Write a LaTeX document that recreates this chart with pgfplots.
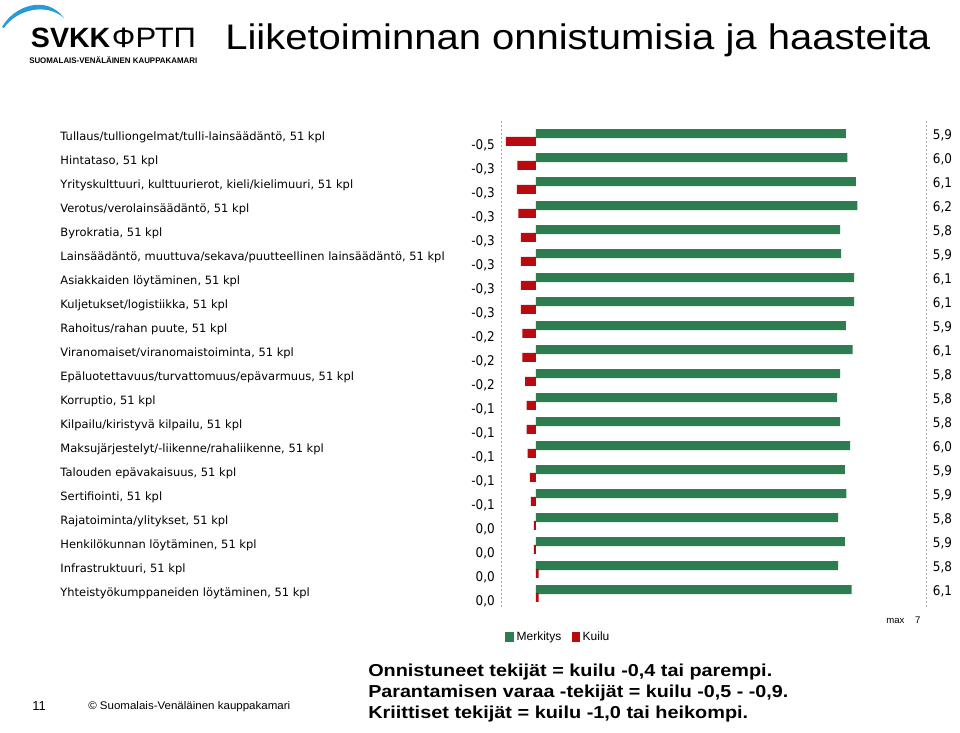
\documentclass[border=0pt]{standalone}
\usepackage{pgfplots}
\pgfplotsset{compat=1.18}
\usepackage{pgfplotstable}
\usepackage{fontspec}
\setmainfont{Liberation Sans}
\newfontfamily\dv[FakeStretch=0.9]{DejaVu Sans}
\newfontfamily\dvc{DejaVu Sans}
\definecolor{mgreen}{RGB}{45,125,80}
\definecolor{kred}{RGB}{185,10,15}
\definecolor{logoblue}{RGB}{40,155,215}
\newcommand{\catlab}[2]{\makebox[325.7pt][l]{\raisebox{-2.4pt}{\dvc\fontsize{8.6}{10}\selectfont #1}\hfill\raisebox{-8.85pt}{\dv\fontsize{10}{12}\selectfont #2}}}

\pgfplotstableread{
y merk gap
19 5.96 -0.58
18 5.99 -0.36
17 6.15 -0.37
16 6.18 -0.34
15 5.85 -0.29
14 5.87 -0.29
13 6.12 -0.29
12 6.12 -0.29
11 5.96 -0.26
10 6.09 -0.26
9 5.85 -0.21
8 5.79 -0.18
7 5.85 -0.18
6 6.04 -0.16
5 5.94 -0.12
4 5.97 -0.10
3 5.81 -0.04
2 5.94 -0.04
1 5.81 0.05
0 6.07 0.05
}\datatable

\begin{document}
\begin{tikzpicture}[x=0.75pt,y=-0.75pt]
\useasboundingbox (0,0) rectangle (960,732);
\fill[white] (0,0) rectangle (960,732);
\coordinate (axpos) at (501,607);
% logo
\fill[logoblue] (2,27) .. controls (14,6) and (46,-6) .. (64,18) .. controls (46,2) and (16,10) .. (4,28) -- cycle;
\node[anchor=base west, inner sep=0pt] at (30.7,47.7) {\resizebox{59.5pt}{14.6pt}{\bfseries SVKK}};
\node[anchor=base west, inner sep=0pt] at (111.7,47.7) {\resizebox{63pt}{14.6pt}{ФРТП}};
\node[anchor=base west, inner sep=0pt] at (29,63.3) {\resizebox{126pt}{5.2pt}{\bfseries SUOMALAIS-VENÄLÄINEN KAUPPAKAMARI}};
% title
\node[anchor=base west, inner sep=0pt] at (225,49) {\resizebox{528.75pt}{19.3pt}{Liiketoiminnan onnistumisia ja haasteita}};

\begin{axis}[
  at={(axpos)}, anchor=south west,
  scale only axis, width=318.75pt, height=365.25pt,
  xmin=-0.673, xmax=7.5, ymin=-0.5625, ymax=19.73,
  separate axis lines,
  x axis line style={draw=none},
  y axis line style={draw=gray!70, dash pattern=on 1.5pt off 1.5pt},
  xtick=\empty,
  ytick={0,...,19},
  major tick length=0pt,
  ytick style={draw=none},
  yticklabel style={anchor=base east, inner sep=0pt, xshift=-4.5pt},
  yticklabels={
    {\catlab{Yhteistyökumppaneiden löytäminen, 51 kpl}{0,0}},
    {\catlab{Infrastruktuuri, 51 kpl}{0,0}},
    {\catlab{Henkilökunnan löytäminen, 51 kpl}{0,0}},
    {\catlab{Rajatoiminta/ylitykset, 51 kpl}{0,0}},
    {\catlab{Sertifiointi, 51 kpl}{-0,1}},
    {\catlab{Talouden epävakaisuus, 51 kpl}{-0,1}},
    {\catlab{Maksujärjestelyt/-liikenne/rahaliikenne, 51 kpl}{-0,1}},
    {\catlab{Kilpailu/kiristyvä kilpailu, 51 kpl}{-0,1}},
    {\catlab{Korruptio, 51 kpl}{-0,1}},
    {\catlab{Epäluotettavuus/turvattomuus/epävarmuus, 51 kpl}{-0,2}},
    {\catlab{Viranomaiset/viranomaistoiminta, 51 kpl}{-0,2}},
    {\catlab{Rahoitus/rahan puute, 51 kpl}{-0,2}},
    {\catlab{Kuljetukset/logistiikka, 51 kpl}{-0,3}},
    {\catlab{Asiakkaiden löytäminen, 51 kpl}{-0,3}},
    {\catlab{Lainsäädäntö, muuttuva/sekava/puutteellinen lainsäädäntö, 51 kpl}{-0,3}},
    {\catlab{Byrokratia, 51 kpl}{-0,3}},
    {\catlab{Verotus/verolainsäädäntö, 51 kpl}{-0,3}},
    {\catlab{Yrityskulttuuri, kulttuurierot, kieli/kielimuuri, 51 kpl}{-0,3}},
    {\catlab{Hintataso, 51 kpl}{-0,3}},
    {\catlab{Tullaus/tulliongelmat/tulli-lainsäädäntö, 51 kpl}{-0,5}}
  },
  legend style={at={(rel axis cs:0,0)}, anchor=north west, xshift=3pt, yshift=-16.5pt,
    draw=none, fill=none, inner sep=0pt, outer sep=0pt,
    font=\fontsize{9}{10}\selectfont, legend columns=2,
    /tikz/every even column/.append style={column sep=6pt}},
]
\addplot[xbar, bar width=6.75pt, bar shift=2.85pt, fill=mgreen, draw=none,
  legend image code/.code={\fill[mgreen] (0pt,-3.75pt) rectangle (6.75pt,3.75pt);}]
  table[x=merk, y=y]{\datatable};
\addlegendentry{Merkitys}
\addplot[xbar, bar width=6.75pt, bar shift=-2.85pt, fill=kred, draw=none,
  legend image code/.code={\fill[kred] (0pt,-3.75pt) rectangle (6pt,3.75pt);}]
  table[x=gap, y=y]{\datatable};
\addlegendentry{Kuilu}
\end{axis}

\begin{axis}[
  at={(axpos)}, anchor=south west,
  scale only axis, width=318.75pt, height=365.25pt,
  xmin=-0.673, xmax=7.5, ymin=-0.5625, ymax=19.73,
  axis x line=none, axis y line*=right,
  y axis line style={draw=none},
  ytick={0,...,19}, major tick length=0pt, ytick style={draw=none},
  yticklabel style={anchor=base west, inner sep=0pt, xshift=5pt, yshift=-1.35pt, font=\dv\fontsize{10}{12}\selectfont},
  yticklabels={{6,1},{5,8},{5,9},{5,8},{5,9},{5,9},{6,0},{5,8},{5,8},{5,8},{6,1},{5,9},{6,1},{6,1},{5,9},{5,8},{6,2},{6,1},{6,0},{5,9}},
]
\end{axis}

\node[anchor=base west, inner sep=0pt] at (886,623) {\fontsize{7.2}{8}\selectfont max\hspace{8pt}7};

% footer
\node[anchor=base west, inner sep=0pt] at (32,710) {\fontsize{9.75}{11}\selectfont 11};
\node[anchor=base west, inner sep=0pt] at (88,709) {\resizebox{151.5pt}{6pt}{\textcopyright\ Suomalais-Venäläinen kauppakamari}};
\node[anchor=base west, inner sep=0pt] at (368,676) {\resizebox{303pt}{9.4pt}{\bfseries Onnistuneet tekijät = kuilu -0,4 tai parempi.}};
\node[anchor=base west, inner sep=0pt] at (368,697) {\resizebox{315pt}{9.4pt}{\bfseries Parantamisen varaa -tekijät = kuilu -0,5 - -0,9.}};
\node[anchor=base west, inner sep=0pt] at (368,718) {\resizebox{285pt}{9.4pt}{\bfseries Kriittiset tekijät = kuilu -1,0 tai heikompi.}};
\end{tikzpicture}
\end{document}
